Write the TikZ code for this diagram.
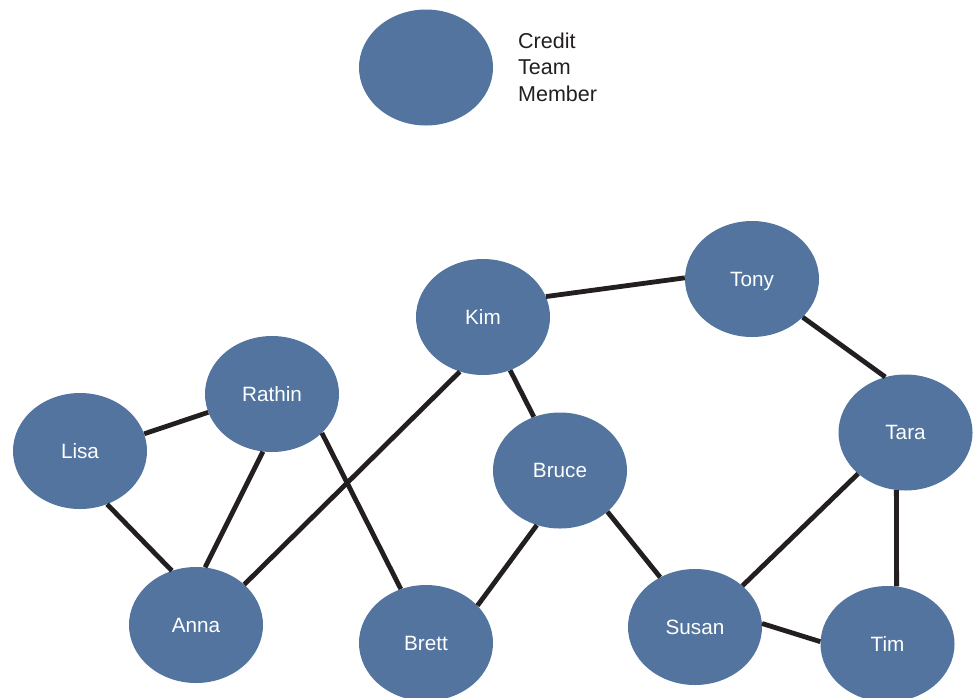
\documentclass[tikz,border=0pt]{standalone}
\usepackage{fontspec}
\setmainfont{Liberation Sans}
\usetikzlibrary{shapes.geometric}
\definecolor{member}{HTML}{52749E}
\definecolor{link}{HTML}{231F20}
\begin{document}
\begin{tikzpicture}[x=1pt,y=-1pt,
  member/.style={ellipse,fill=member,minimum width=134pt,minimum height=116pt,inner sep=0pt,
    text=white,text depth=0pt,font=\fontsize{20.7}{24}\selectfont},
  tie/.style={draw=link,line width=4.8pt}]
\useasboundingbox (0,0) rectangle (974,697);
\clip (0,0) rectangle (974,697);
% legend
\node[member] (key) at (426,67.5) {};
\node[anchor=west,inner sep=0pt,align=left,font=\fontsize{21.5}{26.5}\selectfont,text=link] (keytext) at (518,67) {Credit\\Team\\Member};
% team members
\node[member] (kim) at (483,317) {Kim};
\node[member] (tony) at (752,279) {Tony};
\node[member] (rathin) at (272,394) {Rathin};
\node[member] (lisa) at (80,451) {Lisa};
\node[member] (tara) at (905.5,432.5) {Tara};
\node[member] (bruce) at (560,470.5) {Bruce};
\node[member] (anna) at (196,625) {Anna};
\node[member] (brett) at (426,643) {Brett};
\node[member] (susan) at (695,627) {Susan};
\node[member] (tim) at (887.5,644) {Tim};
% relationships
\draw[tie] (kim.18) -- (tony.179);
\draw[tie] (tony.-37) -- (tara.110);
\draw[tie] (lisa.15.5) -- (rathin.-164);
\draw[tie] (lisa.-63) -- (anna.114);
\draw[tie] (rathin.-99) -- (anna.81);
\draw[tie] (rathin.-38) -- (brett.115);
\draw[tie] (kim.-113) -- (anna.40.6);
\draw[tie] (kim.-63) -- (bruce.116);
\draw[tie] (bruce.-113) -- (brett.36.7);
\draw[tie] (bruce.-41) -- (susan.125.5);
\draw[tie] (tara.-139.5) -- (susan.41.8);
\draw[tie] (tara.-99) -- (tim.81.5);
\draw[tie] (susan.3.4) -- (tim.178);
\end{tikzpicture}
\end{document}
